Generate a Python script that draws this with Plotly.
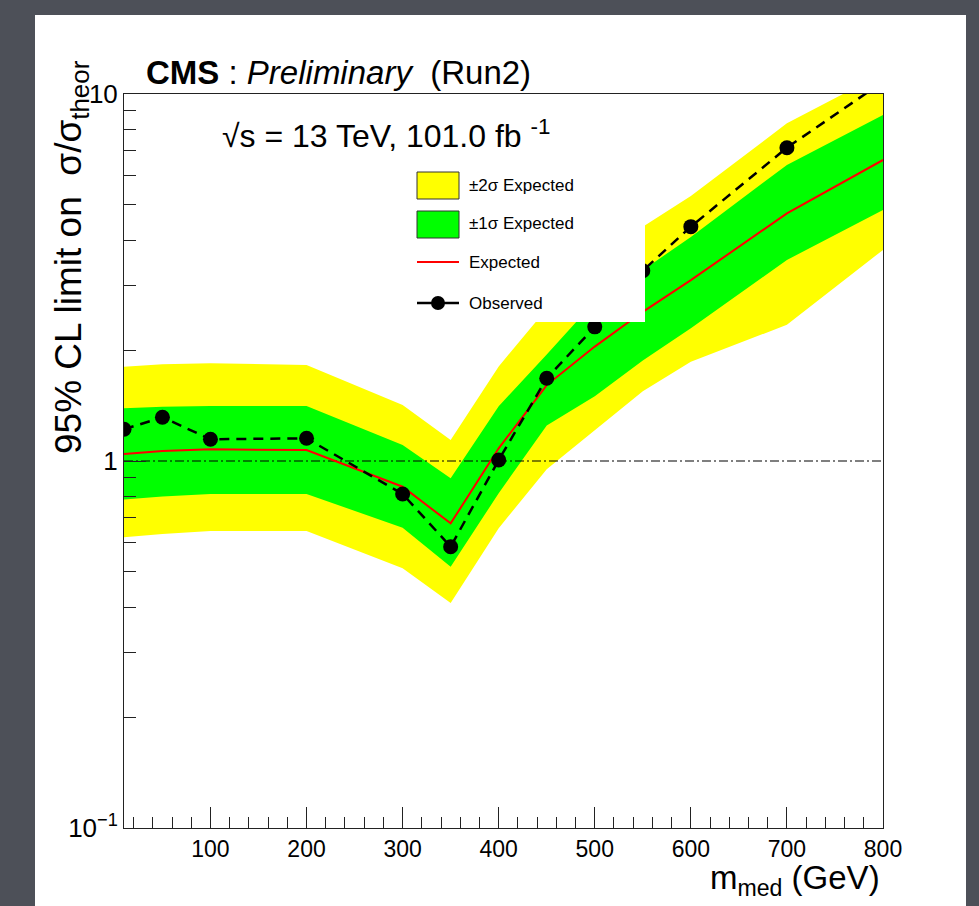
import plotly.graph_objects as go

# ---- data: 95% CL upper limits on sigma/sigma_theor vs mediator mass ----
m_med = [10, 50, 100, 200, 300, 350, 400, 450, 500, 550, 600, 700, 800]
observed = [1.22, 1.316, 1.146, 1.153, 0.813, 0.584, 1.006, 1.68, 2.32, 3.3, 4.35, 7.14, 10.8]
expected = [1.045, 1.065, 1.076, 1.071, 0.851, 0.676, 1.083, 1.61, 2.05, 2.55, 3.11, 4.73, 6.61]
exp_p1 = [1.392, 1.406, 1.412, 1.412, 1.105, 0.897, 1.41, 1.95, 2.72, 3.31, 4.08, 6.41, 8.77]
exp_m1 = [0.786, 0.80, 0.813, 0.813, 0.658, 0.515, 0.817, 1.25, 1.50, 1.88, 2.30, 3.53, 4.83]
exp_p2 = [1.807, 1.834, 1.846, 1.826, 1.42, 1.14, 1.81, 2.6, 3.5, 4.35, 5.27, 8.32, 11.4]
exp_m2 = [0.62, 0.633, 0.645, 0.645, 0.51, 0.41, 0.656, 0.95, 1.215, 1.55, 1.865, 2.35, 3.76]

x_range = [10, 800]
y_log_range = [-1, 1]
x_major = [100, 200, 300, 400, 500, 600, 700, 800]
y_major = [0.1, 1, 10]
y_major_text = ["10<sup>\u22121</sup>", "1", "10"]

legend_labels = ["\u00b12\u03c3 Expected", "\u00b11\u03c3 Expected", "Expected", "Observed"]

# ---- page geometry (pixels) ----
W, H = 979, 906
L, R, T, B = 124, 96, 94, 78
PW, PH = W - L - R, H - T - B

def px(xp):
    return (xp - L) / PW

def py(yp):
    return (H - B - yp) / PH

FONT = "Liberation Sans, Arial, Helvetica, sans-serif"

fig = go.Figure()

# +-2 sigma band
fig.add_trace(go.Scatter(
    x=m_med + m_med[::-1], y=exp_p2 + exp_m2[::-1],
    fill="toself", fillcolor="#ffff00", line=dict(width=0),
    mode="lines", hoverinfo="skip", name=legend_labels[0]))
# +-1 sigma band
fig.add_trace(go.Scatter(
    x=m_med + m_med[::-1], y=exp_p1 + exp_m1[::-1],
    fill="toself", fillcolor="#00ff00", line=dict(width=0),
    mode="lines", hoverinfo="skip", name=legend_labels[1]))
# reference line at sigma/sigma_theor = 1
fig.add_trace(go.Scatter(
    x=x_range, y=[1, 1], mode="lines",
    line=dict(color="#000000", width=1.2, dash="9px,3px,2px,3px"),
    hoverinfo="skip"))
# expected limit
fig.add_trace(go.Scatter(
    x=m_med, y=expected, mode="lines",
    line=dict(color="#ff0000", width=2), name=legend_labels[2]))
# observed limit
fig.add_trace(go.Scatter(
    x=m_med, y=observed, mode="lines+markers",
    line=dict(color="black", width=2.5, dash="10px,7px"),
    marker=dict(color="black", size=15), name=legend_labels[3]))

shapes = []
# white canvas behind the plot
shapes.append(dict(type="rect", xref="paper", yref="paper",
                   x0=px(35), x1=px(966), y0=py(915), y1=py(15),
                   fillcolor="white", line=dict(width=0), layer="below"))

# legend box drawn over the plot
lx0, lx1, ly0, ly1 = 405, 645, 160, 322
shapes.append(dict(type="rect", xref="paper", yref="paper",
                   x0=px(lx0), x1=px(lx1), y0=py(ly1), y1=py(ly0),
                   fillcolor="white", line=dict(width=0), layer="above"))
bx0, bx1 = 417, 459
shapes.append(dict(type="rect", xref="paper", yref="paper",
                   x0=px(bx0), x1=px(bx1), y0=py(199), y1=py(172),
                   fillcolor="#ffff00", line=dict(color="#333333", width=1), layer="above"))
shapes.append(dict(type="rect", xref="paper", yref="paper",
                   x0=px(bx0), x1=px(bx1), y0=py(238), y1=py(211),
                   fillcolor="#00ff00", line=dict(color="#333333", width=1), layer="above"))
shapes.append(dict(type="line", xref="paper", yref="paper",
                   x0=px(bx0), x1=px(bx1), y0=py(262), y1=py(262),
                   line=dict(color="#ff0000", width=2), layer="above"))
shapes.append(dict(type="line", xref="paper", yref="paper",
                   x0=px(bx0), x1=px(bx1), y0=py(303), y1=py(303),
                   line=dict(color="black", width=2.5), layer="above"))
r = 7
shapes.append(dict(type="circle", xref="paper", yref="paper",
                   x0=px(438 - r), x1=px(438 + r), y0=py(303 + r), y1=py(303 - r),
                   fillcolor="black", line=dict(color="black", width=0), layer="above"))

annotations = []
for lab, yp in zip(legend_labels, [185, 224, 262, 303]):
    annotations.append(dict(text=lab, xref="paper", yref="paper", x=px(467), y=py(yp),
                            xanchor="left", yanchor="middle", showarrow=False,
                            font=dict(family=FONT, size=17, color="black")))

# header
annotations.append(dict(text="<b>CMS</b> : <i>Preliminary</i>  (Run2)",
                        xref="paper", yref="paper", x=px(144), y=py(93),
                        xanchor="left", yanchor="bottom", showarrow=False,
                        font=dict(family=FONT, size=33, color="black")))
annotations.append(dict(text="\u221as = 13 TeV, 101.0 fb <sup>-1</sup>",
                        xref="paper", yref="paper", x=px(220), y=py(134),
                        xanchor="left", yanchor="middle", showarrow=False,
                        font=dict(family=FONT, size=32, color="black")))
# axis titles
annotations.append(dict(text="95% CL limit on  \u03c3/\u03c3<sub>theor</sub>",
                        xref="paper", yref="paper", x=px(46), y=py(58),
                        xanchor="left", yanchor="top", textangle=-90, showarrow=False,
                        font=dict(family=FONT, size=37, color="black")))
annotations.append(dict(text="m<sub>med</sub> (GeV)",
                        xref="paper", yref="paper", x=px(882), y=py(880),
                        xanchor="right", yanchor="middle", showarrow=False,
                        font=dict(family=FONT, size=33, color="black")))

fig.update_layout(
    width=W, height=H,
    margin=dict(l=L, r=R, t=T, b=B, pad=0),
    paper_bgcolor="#4d5058", plot_bgcolor="white",
    showlegend=False,
    shapes=shapes, annotations=annotations,
    font=dict(family=FONT, color="black"),
)
fig.update_xaxes(
    range=x_range, showgrid=False, zeroline=False,
    showline=True, linecolor="#222222", linewidth=1, mirror=True,
    ticks="inside", ticklen=21, tickwidth=1, tickcolor="#222222",
    tickvals=x_major, ticktext=[str(v) for v in x_major],
    tickfont=dict(family=FONT, size=23, color="black"),
    minor=dict(ticks="inside", ticklen=11, dtick=20, tick0=0, tickcolor="#222222", showgrid=False),
)
fig.update_yaxes(
    type="log", range=y_log_range, showgrid=False, zeroline=False,
    showline=True, linecolor="#222222", linewidth=1, mirror=True,
    ticks="inside", ticklen=22, tickwidth=1, tickcolor="#222222",
    tickvals=y_major, ticktext=y_major_text,
    tickfont=dict(family=FONT, size=26, color="black"),
    minor=dict(ticks="inside", ticklen=12, dtick="D1", tickcolor="#222222", showgrid=False),
)

fig.write_html("out.html")
